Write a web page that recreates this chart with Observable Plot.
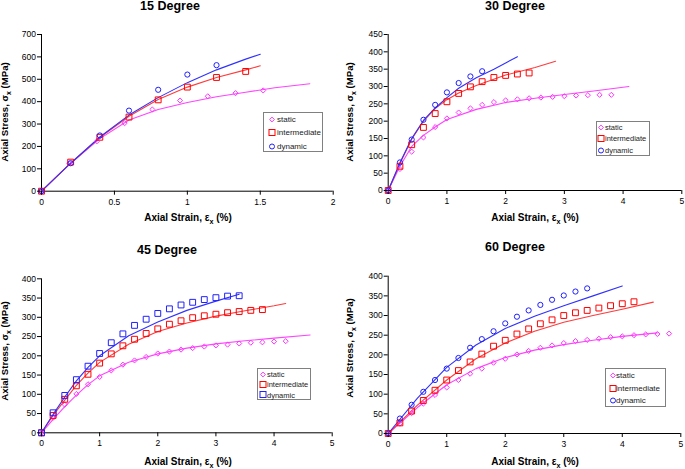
<!DOCTYPE html>
<html>
<head>
<meta charset="utf-8">
<script src="https://cdn.jsdelivr.net/npm/d3@7"></script>
<script src="https://cdn.jsdelivr.net/npm/@observablehq/plot@0.6"></script>
<style>
  body { margin: 0; background: #fff; }
  #root { position: relative; width: 685px; height: 469px; font-family: "Liberation Sans", Arial, sans-serif; color: #000; overflow: hidden; }
  .panel { position: absolute; }
  .title { position: absolute; transform: translate(-50%, -50%); font-weight: bold; font-size: 12.5px; white-space: nowrap; }
  .xlab { position: absolute; transform: translate(-50%, -50%); font-weight: bold; font-size: 10px; white-space: nowrap; }
  .ylab { position: absolute; transform: translate(-50%, -50%) rotate(-90deg); font-weight: bold; font-size: 9.6px; line-height: 10px; white-space: nowrap; }
  .sub { font-size: 0.72em; vertical-align: -0.3em; }
  .legend { position: absolute; border: 1px solid #808080; background: #fff; box-sizing: border-box; }
  .lrow { position: absolute; left: 0; display: flex; align-items: center; font-size: 7.8px; color: #222; white-space: nowrap; transform: translateY(-50%); }
  .lrow svg { display: block; }
</style>
</head>
<body>
<div id="root"></div>
<script>
// ---------- 15 Degree ----------
const d15StaticX = [0, 0.19, 0.38, 0.57, 0.76, 0.95, 1.14, 1.33, 1.52];
const d15StaticY = [0, 125, 223, 304, 365, 405, 424, 438, 450];
const d15InterX = [0, 0.2, 0.4, 0.6, 0.8, 1.0, 1.2, 1.4];
const d15InterY = [0, 130, 241, 331, 408, 465, 508, 535];
const d15DynX = [0, 0.2, 0.4, 0.6, 0.8, 1.0, 1.2];
const d15DynY = [0, 125, 249, 360, 453, 521, 563];
const f15StaticX = [0, 0.2, 0.4, 0.6, 0.8, 1.0, 1.2, 1.4, 1.6, 1.84];
const f15StaticY = [0, 125, 235, 318, 365, 396, 422, 442, 462, 480];
const f15InterX = [0, 0.2, 0.4, 0.6, 0.8, 1.0, 1.2, 1.4, 1.5];
const f15InterY = [0, 125, 240, 335, 410, 465, 508, 542, 560];
const f15DynX = [0, 0.2, 0.4, 0.6, 0.8, 1.0, 1.2, 1.4, 1.5];
const f15DynY = [0, 125, 242, 340, 418, 485, 542, 590, 612];
const t15X = [0, 0.5, 1, 1.5, 2];
const t15Y = [0, 100, 200, 300, 400, 500, 600, 700];

// ---------- 30 Degree ----------
const d30StaticX = [0, 0.2, 0.4, 0.6, 0.8, 1.0, 1.2, 1.4, 1.6, 1.8, 2.0, 2.2, 2.4, 2.6, 2.8, 3.0, 3.2, 3.4, 3.6, 3.8];
const d30StaticY = [0, 62, 112, 153, 183, 208, 225, 237, 247, 255, 260, 263, 266, 268, 270, 272, 274, 275, 276, 276];
const d30InterX = [0, 0.2, 0.4, 0.6, 0.8, 1.0, 1.2, 1.4, 1.6, 1.8, 2.0, 2.2, 2.4];
const d30InterY = [0, 70, 132, 182, 222, 256, 280, 299, 314, 326, 332, 336, 339];
const d30DynX = [0, 0.2, 0.4, 0.6, 0.8, 1.0, 1.2, 1.4, 1.6];
const d30DynY = [0, 81, 147, 204, 247, 283, 310, 329, 344];
const f30StaticX = [0, 0.2, 0.4, 0.6, 0.8, 1.0, 1.5, 2.0, 2.5, 3.0, 3.5, 4.1];
const f30StaticY = [0, 70, 127, 159, 183, 205, 234, 254, 266, 277, 287, 300];
const f30InterX = [0, 0.2, 0.4, 0.6, 0.8, 1.0, 1.2, 1.5, 2.0, 2.5, 2.85];
const f30InterY = [0, 78, 148, 200, 236, 262, 281, 303, 333, 355, 373];
const f30DynX = [0, 0.2, 0.4, 0.6, 0.8, 1.0, 1.2, 1.5, 1.8, 2.0, 2.2];
const f30DynY = [0, 80, 150, 202, 238, 268, 295, 325, 350, 368, 386];
const t30X = [0, 1, 2, 3, 4, 5];
const t30Y = [0, 50, 100, 150, 200, 250, 300, 350, 400, 450];

// ---------- 45 Degree ----------
const d45StaticX = [0, 0.2, 0.4, 0.6, 0.8, 1.0, 1.2, 1.4, 1.6, 1.8, 2.0, 2.2, 2.4, 2.6, 2.8, 3.0, 3.2, 3.4, 3.6, 3.8, 4.0, 4.2];
const d45StaticY = [0, 39, 73, 101, 126, 145, 162, 177, 188, 197, 206, 211, 216, 220, 224, 227, 229, 232, 234, 235, 237, 238];
const d45InterX = [0, 0.2, 0.4, 0.6, 0.8, 1.0, 1.2, 1.4, 1.6, 1.8, 2.0, 2.2, 2.4, 2.6, 2.8, 3.0, 3.2, 3.4, 3.6, 3.8];
const d45InterY = [0, 45, 87, 122, 152, 181, 205, 226, 243, 258, 270, 282, 291, 299, 304, 308, 312, 315, 318, 320];
const d45DynX = [0, 0.2, 0.4, 0.6, 0.8, 1.0, 1.2, 1.4, 1.6, 1.8, 2.0, 2.2, 2.4, 2.6, 2.8, 3.0, 3.2, 3.4];
const d45DynY = [0, 52, 97, 138, 173, 206, 234, 257, 279, 295, 310, 322, 332, 339, 346, 351, 355, 356];
const f45StaticX = [0, 0.2, 0.4, 0.6, 0.8, 1.0, 1.5, 2.0, 2.5, 3.0, 3.5, 4.0, 4.62];
const f45StaticY = [0, 35, 68, 98, 125, 148, 183, 205, 220, 231, 239, 246, 254];
const f45InterX = [0, 0.2, 0.4, 0.6, 0.8, 1.0, 1.5, 2.0, 2.5, 3.0, 3.5, 4.0, 4.2];
const f45InterY = [0, 45, 85, 123, 155, 183, 230, 263, 285, 303, 317, 330, 336];
const f45DynX = [0, 0.2, 0.4, 0.6, 0.8, 1.0, 1.5, 2.0, 2.5, 3.0, 3.4];
const f45DynY = [0, 48, 93, 135, 170, 200, 252, 288, 318, 342, 360];
const t45X = [0, 1, 2, 3, 4, 5];
const t45Y = [0, 50, 100, 150, 200, 250, 300, 350, 400];

// ---------- 60 Degree ----------
const d60StaticX = [0, 0.2, 0.4, 0.6, 0.8, 1.0, 1.2, 1.4, 1.6, 1.8, 2.0, 2.2, 2.4, 2.6, 2.8, 3.0, 3.2, 3.4, 3.6, 3.8, 4.0, 4.2, 4.4, 4.6, 4.8];
const d60StaticY = [0, 25, 52, 76, 98, 117, 136, 152, 165, 180, 190, 201, 210, 218, 224, 230, 235, 238, 241, 245, 247, 250, 252, 253, 254];
const d60InterX = [0, 0.2, 0.4, 0.6, 0.8, 1.0, 1.2, 1.4, 1.6, 1.8, 2.0, 2.2, 2.4, 2.6, 2.8, 3.0, 3.2, 3.4, 3.6, 3.8, 4.0, 4.2];
const d60InterY = [0, 27, 57, 84, 110, 136, 160, 182, 202, 222, 237, 253, 266, 279, 289, 300, 307, 313, 319, 325, 330, 335];
const d60DynX = [0, 0.2, 0.4, 0.6, 0.8, 1.0, 1.2, 1.4, 1.6, 1.8, 2.0, 2.2, 2.4, 2.6, 2.8, 3.0, 3.2, 3.4];
const d60DynY = [0, 38, 73, 106, 136, 165, 192, 218, 240, 260, 280, 297, 313, 327, 340, 351, 361, 369];
const f60StaticX = [0, 0.5, 1.0, 1.5, 2.0, 2.5, 3.0, 3.5, 4.0, 4.6];
const f60StaticY = [0, 66, 124, 165, 193, 212, 226, 237, 247, 256];
const f60InterX = [0, 0.5, 1.0, 1.5, 2.0, 2.5, 3.0, 3.5, 4.0, 4.53];
const f60InterY = [0, 72, 136, 190, 230, 260, 283, 300, 316, 334];
const f60DynX = [0, 0.5, 1.0, 1.5, 2.0, 2.5, 3.0, 3.5, 4.0];
const f60DynY = [0, 90, 168, 225, 267, 298, 325, 350, 375];
const t60X = [0, 1, 2, 3, 4, 5];
const t60Y = [0, 50, 100, 150, 200, 250, 300, 350, 400];

const seriesNames = ["static", "intermediate", "dynamic"];
const markerColors = {static: "#ff33ff", intermediate: "#ff0000", dynamic: "#2020ff"};
const lineColors = {static: "#ff44ff", intermediate: "#ff3b3b", dynamic: "#3030ff"};

const zip = (xs, ys) => xs.map((x, i) => ({x, y: ys[i]}));

const panels = [
  {title: "15 Degree", left: 0, top: 0, width: 342, height: 234, ml: 41, mr: 9.3, mt: 34, mb: 43.3,
   xDomain: [0, 2], yDomain: [0, 700], xTicks: t15X, yTicks: t15Y,
   data: {static: [d15StaticX, d15StaticY], intermediate: [d15InterX, d15InterY], dynamic: [d15DynX, d15DynY]},
   fit: {static: [f15StaticX, f15StaticY], intermediate: [f15InterX, f15InterY], dynamic: [f15DynX, f15DynY]},
   symbols: {static: "diamond2", intermediate: "square", dynamic: "circle"},
   titleXY: [170, 6], xlabXY: [188, 219], ylabXY: [6.5, 111.5],
   legend: {x: 263, y: 112, w: 60, h: 40, mx: 9, tx: 14, rows: [7, 20, 34], fs: 8}},
  {title: "30 Degree", left: 342, top: 0, width: 343, height: 234, ml: 45.7, mr: 3.7, mt: 34, mb: 44,
   xDomain: [0, 5], yDomain: [0, 450], xTicks: t30X, yTicks: t30Y,
   data: {static: [d30StaticX, d30StaticY], intermediate: [d30InterX, d30InterY], dynamic: [d30DynX, d30DynY]},
   fit: {static: [f30StaticX, f30StaticY], intermediate: [f30InterX, f30InterY], dynamic: [f30DynX, f30DynY]},
   symbols: {static: "diamond2", intermediate: "square", dynamic: "circle"},
   titleXY: [515, 6], xlabXY: [535, 219], ylabXY: [351.5, 111.5],
   legend: {x: 596, y: 121, w: 54, h: 35, mx: 5, tx: 9, rows: [6, 17, 29], fs: 7.5}},
  {title: "45 Degree", left: 0, top: 234, width: 342, height: 235, ml: 41, mr: 10.3, mt: 44.3, mb: 36.7,
   xDomain: [0, 5], yDomain: [0, 400], xTicks: t45X, yTicks: t45Y,
   data: {static: [d45StaticX, d45StaticY], intermediate: [d45InterX, d45InterY], dynamic: [d45DynX, d45DynY]},
   fit: {static: [f45StaticX, f45StaticY], intermediate: [f45InterX, f45InterY], dynamic: [f45DynX, f45DynY]},
   symbols: {static: "diamond2", intermediate: "square", dynamic: "square"},
   titleXY: [167, 249.7], xlabXY: [188, 462.7], ylabXY: [6.5, 350.7],
   legend: {x: 257, y: 368, w: 54, h: 32, mx: 6, tx: 10, rows: [6.3, 16.3, 26.7], fs: 7.5}},
  {title: "60 Degree", left: 342, top: 234, width: 343, height: 235, ml: 45.7, mr: 4.7, mt: 41.7, mb: 36,
   xDomain: [0, 5], yDomain: [0, 400], xTicks: t60X, yTicks: t60Y,
   data: {static: [d60StaticX, d60StaticY], intermediate: [d60InterX, d60InterY], dynamic: [d60DynX, d60DynY]},
   fit: {static: [f60StaticX, f60StaticY], intermediate: [f60InterX, f60InterY], dynamic: [f60DynX, f60DynY]},
   symbols: {static: "diamond2", intermediate: "square", dynamic: "circle"},
   titleXY: [515, 246.7], xlabXY: [535, 462.7], ylabXY: [352, 348],
   legend: {x: 605, y: 368, w: 61, h: 39, mx: 7.7, tx: 11, rows: [7, 20, 32], fs: 8}}
];

const symbolR = {diamond2: 2.3, square: 3.3, circle: 2.6};
const root = document.getElementById("root");

function legendSymbolSvg(sym, color) {
  let shape;
  if (sym === "square") shape = `<rect x="1" y="1" width="6" height="6" fill="none" stroke="${color}" stroke-width="1"/>`;
  else if (sym === "circle") shape = `<circle cx="4" cy="4" r="2.5" fill="none" stroke="${color}" stroke-width="1"/>`;
  else shape = `<path d="M4,1.6L6.4,4L4,6.4L1.6,4Z" fill="none" stroke="${color}" stroke-width="1"/>`;
  return `<svg width="8" height="8" viewBox="0 0 8 8">${shape}</svg>`;
}

for (const p of panels) {
  const marks = [
    Plot.ruleX([0], {stroke: "#000", strokeWidth: 1}),
    Plot.ruleY([0], {stroke: "#000", strokeWidth: 1})
  ];
  for (const s of seriesNames) {
    const [fx, fy] = p.fit[s];
    marks.push(Plot.line(zip(fx, fy), {x: "x", y: "y", stroke: lineColors[s], strokeWidth: 1.1}));
  }
  for (const s of seriesNames) {
    const [mx, my] = p.data[s];
    const sym = p.symbols[s];
    marks.push(Plot.dot(zip(mx, my), {x: "x", y: "y", symbol: () => sym, stroke: markerColors[s], fill: "none", r: symbolR[sym], strokeWidth: 1}));
  }
  marks.push(Plot.axisX({ticks: p.xTicks, tickSize: 4, tickPadding: 3.5, fontSize: 8.5, tickFormat: d => String(d), label: null}));
  marks.push(Plot.axisY({ticks: p.yTicks, tickSize: 4, tickPadding: 1.5, fontSize: 8.5, tickFormat: d => String(d), label: null}));

  const chart = Plot.plot({
    width: p.width, height: p.height,
    marginLeft: p.ml, marginRight: p.mr, marginTop: p.mt, marginBottom: p.mb,
    x: {domain: p.xDomain, label: null},
    y: {domain: p.yDomain, label: null},
    symbol: {type: "identity"},
    style: {fontFamily: "'Liberation Sans', Arial, sans-serif", fontSize: "8.5px", color: "#000", background: "transparent", overflow: "visible"},
    marks
  });
  const wrap = document.createElement("div");
  wrap.className = "panel";
  wrap.style.left = p.left + "px";
  wrap.style.top = p.top + "px";
  wrap.appendChild(chart);
  root.appendChild(wrap);

  const t = document.createElement("div");
  t.className = "title"; t.textContent = p.title;
  t.style.left = p.titleXY[0] + "px"; t.style.top = p.titleXY[1] + "px";
  root.appendChild(t);

  const xl = document.createElement("div");
  xl.className = "xlab";
  xl.innerHTML = 'Axial Strain, ε<span class="sub">x</span> (%)';
  xl.style.left = p.xlabXY[0] + "px"; xl.style.top = p.xlabXY[1] + "px";
  root.appendChild(xl);

  const yl = document.createElement("div");
  yl.className = "ylab";
  yl.innerHTML = 'Axial Stress, σ<span class="sub">x</span> (MPa)';
  yl.style.left = p.ylabXY[0] + "px"; yl.style.top = p.ylabXY[1] + "px";
  root.appendChild(yl);

  const L = p.legend;
  const lg = document.createElement("div");
  lg.className = "legend";
  lg.style.left = L.x + "px"; lg.style.top = L.y + "px";
  lg.style.width = L.w + "px"; lg.style.height = L.h + "px";
  seriesNames.forEach((s, i) => {
    const row = document.createElement("div");
    row.className = "lrow";
    row.style.top = (L.rows[i] - 1) + "px";
    row.style.left = (L.mx - 5) + "px";
    row.style.fontSize = L.fs + "px";
    row.innerHTML = legendSymbolSvg(p.symbols[s], markerColors[s]) + `<span style="margin-left:${L.tx - L.mx - 4}px">${s}</span>`;
    lg.appendChild(row);
  });
  root.appendChild(lg);
}
</script>
</body>
</html>
